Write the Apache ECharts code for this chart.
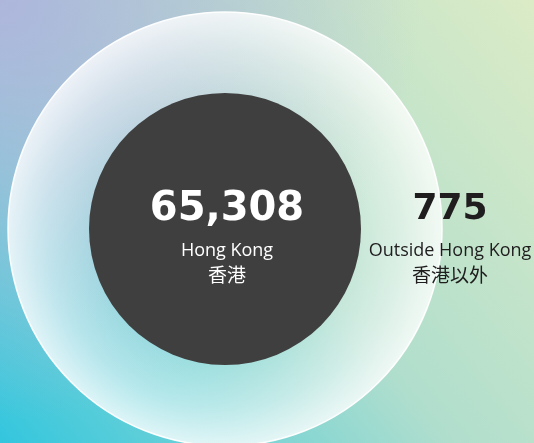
<!DOCTYPE html>
<html>
<head>
<meta charset="utf-8">
<script src="https://cdn.jsdelivr.net/npm/echarts@6/dist/echarts.min.js"></script>
<style>
  html, body { margin: 0; padding: 0; }
  #main { width: 534px; height: 443px; }
</style>
</head>
<body>
<div id="main"></div>
<script>
// data
var categories = ['Hong Kong', 'Outside Hong Kong'];
var categoriesZh = ['香港', '香港以外'];
var values = [65308, 775];

var chart = echarts.init(document.getElementById('main'));

function richFor(color) {
  return {
    num: { fontFamily: 'DejaVu Sans', fontWeight: 'bold', fontSize: 40, lineHeight: 58, color: color },
    num2: { fontFamily: 'DejaVu Sans', fontWeight: 'bold', fontSize: 36, lineHeight: 58, color: color },
    en: { fontFamily: 'Open Sans', fontSize: 18, lineHeight: 24, color: color },
    zh: { fontFamily: 'Noto Sans CJK TC', fontSize: 19, lineHeight: 24, color: color }
  };
}

function labelText(i, numStyle) {
  return '{' + numStyle + '|' + echarts.format.addCommas(values[i]) + '}\n' +
    '{en|' + categories[i] + '}\n{zh|' + categoriesZh[i] + '}';
}

var center = [225, 229];

var option = {
  animation: false,
  // background gradient
  backgroundColor: {
    type: 'linear', x: 0, y: 1, x2: 1, y2: 0,
    colorStops: [
      { offset: 0, color: '#33c6de' },
      { offset: 0.5, color: '#b0decd' },
      { offset: 1, color: '#dbebc6' }
    ]
  },
  graphic: [{
    type: 'rect',
    silent: true,
    z: -10,
    shape: { x: 0, y: 0, width: 534, height: 443 },
    style: {
      fill: {
        type: 'radial', x: 0, y: 0, r: 0.95,
        colorStops: [
          { offset: 0, color: 'rgba(174,182,220,1)' },
          { offset: 1, color: 'rgba(174,182,220,0)' }
        ]
      }
    }
  }],
  series: [
    {
      name: categories[1],
      type: 'pie',
      silent: true,
      center: center,
      radius: [0, 217],
      emphasis: { disabled: true },
      labelLine: { show: false },
      itemStyle: {
        borderColor: 'rgba(255,255,255,0.95)',
        borderWidth: 1.5,
        color: {
          type: 'radial', x: 0.5, y: 0.5, r: 0.5,
          colorStops: [
            { offset: 0, color: 'rgba(255,255,255,0.2)' },
            { offset: 0.62, color: 'rgba(255,255,255,0.25)' },
            { offset: 0.82, color: 'rgba(255,255,255,0.5)' },
            { offset: 1, color: 'rgba(255,255,255,0.8)' }
          ]
        }
      },
      label: {
        show: true,
        position: 'center',
        offset: [225, 5],
        formatter: function () { return labelText(1, 'num2'); },
        rich: richFor('#1f1d1e')
      },
      data: [{ name: categories[1], value: values[1] }]
    },
    {
      name: categories[0],
      type: 'pie',
      silent: true,
      center: center,
      radius: [0, 136],
      emphasis: { disabled: true },
      labelLine: { show: false },
      itemStyle: { color: '#3f3f3f' },
      label: {
        show: true,
        position: 'center',
        offset: [2, 5],
        formatter: function () { return labelText(0, 'num'); },
        rich: richFor('#ffffff')
      },
      data: [{ name: categories[0], value: values[0] }]
    }
  ]
};

chart.setOption(option);
</script>
</body>
</html>
